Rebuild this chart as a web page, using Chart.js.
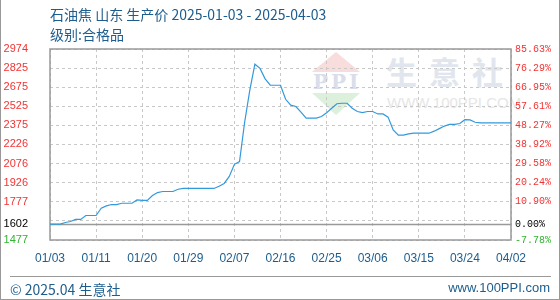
<!DOCTYPE html>
<html>
<head>
<meta charset="utf-8">
<script src="https://cdn.jsdelivr.net/npm/chart.js@4"></script>
<style>
  html, body { margin: 0; padding: 0; background: #fff; }
  #wrap { position: relative; width: 558px; height: 299px; border-left: 1px solid #999; border-right: 1px solid #999; border-bottom: 1px solid #999; overflow: hidden; font-family: "Noto Sans CJK SC", "Noto Sans", sans-serif; }
  #chart { position: absolute; left: -1px; top: 0; z-index: 2; }
  .txt { position: absolute; color: #1c5d8e; white-space: nowrap; z-index: 3; }
  .wm { position: absolute; z-index: 1; white-space: nowrap; }
  .tri-up { width: 0; height: 0; border-left: 24px solid transparent; border-right: 24px solid transparent; border-bottom: 20px solid #f9dcdc; }
  .tri-down { width: 0; height: 0; border-left: 24px solid transparent; border-right: 24px solid transparent; border-top: 22px solid #dcf0dc; }
</style>
</head>
<body>
<div id="wrap">
  <div class="txt" style="left:49px; top:4px; font-size:14px;">石油焦 山东 生产价 2025-01-03 - 2025-04-03</div>
  <div class="txt" style="left:49px; top:24px; font-size:14px;">级别:合格品</div>

  <!-- watermark -->
  <div class="wm tri-up" style="left:311px; top:52px;"></div>
  <div class="wm" style="left:312px; top:70px; font: bold 20px 'DejaVu Serif', serif; color:#d9deea; letter-spacing:3px;">PPI</div>
  <div class="wm tri-down" style="left:311px; top:93px;"></div>
  <div class="wm" style="left:385px; top:48px; font: bold 31px 'Noto Sans CJK SC'; color:#e1e5ed; letter-spacing:12px;">生意社</div>
  <div class="wm" style="left:386px; top:94px; font: 15px 'Liberation Sans', sans-serif; color:#e6e6e6;">WWW.100PPI.COM</div>

  <canvas id="chart" width="560" height="300"></canvas>

  <div style="position:absolute; left:9px; top:276px; width:541px; border-top:1px solid #999;"></div>
  <div class="txt" style="left:9px; top:279px; font-size:14px;">© 2025.04 生意社</div>
  <div class="txt" style="right:9px; top:280px; font-size:13px; font-family:'Liberation Sans', sans-serif;">www.100PPI.com</div>
</div>

<script>
// x axis tick labels, one every 9 points
const xTicks = ['01/03', '01/11', '01/20', '01/29', '02/07', '02/16', '02/25', '03/06', '03/15', '03/24', '04/02'];

// price series (yuan/ton)
const prices = [
  1602, 1602, 1602, 1614, 1622, 1638, 1638, 1669, 1669, 1669,
  1726, 1744, 1755, 1755, 1765, 1765, 1765, 1791, 1788, 1788,
  1825, 1849, 1857, 1857, 1857, 1875, 1881, 1881, 1881, 1881,
  1881, 1881, 1881, 1898, 1920, 1975, 2070, 2092, 2400, 2650,
  2855, 2822, 2740, 2690, 2690, 2690, 2580, 2534, 2523, 2480,
  2432, 2432, 2432, 2445, 2475, 2510, 2545, 2549, 2549, 2510,
  2484, 2476, 2484, 2484, 2465, 2465, 2440, 2340, 2299, 2299,
  2309, 2314, 2314, 2314, 2314, 2330, 2350, 2370, 2384, 2384,
  2390, 2420, 2418, 2400, 2395, 2395, 2395, 2395, 2395, 2395,
  2395
];

const basePrice = 1602;
const yMin = 1477;
const yMax = 2974;

// y ticks (ascending), left price labels and right percent labels
const yTicks = [1477, 1602, 1627, 1777, 1926, 2076, 2226, 2375, 2525, 2675, 2825, 2974];
const leftLabels = ['1477', '1602', '', '1777', '1926', '2076', '2226', '2375', '2525', '2675', '2825', '2974'];
const rightLabels = ['-7.78%', '0.00%', '', '10.90%', '20.24%', '29.58%', '38.92%', '48.27%', '57.61%', '66.95%', '76.29%', '85.63%'];

const labels = prices.map((p, i) => i % 9 === 0 ? xTicks[i / 9] : '');

function tickColor(ctx) {
  const v = yTicks[ctx.index];
  if (v < basePrice) return '#33b233';
  if (v === basePrice) return '#000';
  return '#f23333';
}

// frame around the plot and solid base line at 1602
const framePlugin = {
  id: 'frame',
  beforeDatasetsDraw(chart) {
    const { ctx, chartArea: a, scales } = chart;
    ctx.save();
    ctx.strokeStyle = '#999';
    ctx.lineWidth = 1.5;
    const yb = Math.round(scales.y.getPixelForValue(basePrice)) + 0.5;
    ctx.beginPath();
    ctx.moveTo(a.left, yb);
    ctx.lineTo(a.right, yb);
    ctx.stroke();
    ctx.strokeRect(a.left, a.top, a.right - a.left, a.bottom - a.top);
    ctx.restore();
  }
};

new Chart(document.getElementById('chart'), {
  type: 'line',
  data: {
    labels: labels,
    datasets: [{
      data: prices,
      borderColor: '#3399dd',
      borderWidth: 1.2,
      pointRadius: 0,
      tension: 0,
      fill: false
    }]
  },
  options: {
    responsive: false,
    animation: false,
    layout: { padding: { top: 49, bottom: 30, left: 0, right: 0 } },
    plugins: { legend: { display: false }, tooltip: { enabled: false } },
    scales: {
      x: {
        afterBuildTicks: s => { s.ticks = s.ticks.filter(t => t.value % 9 === 0); },
        afterFit: s => { s.height = 30; },
        ticks: {
          autoSkip: false,
          maxRotation: 0,
          callback: v => labels[v],
          color: '#1c5d8e',
          font: { family: 'Liberation Sans', size: 12 },
          padding: 11
        },
        grid: { color: '#c8c8c8', drawTicks: false },
        border: { display: false, dash: [3, 3] }
      },
      y: {
        position: 'left',
        min: yMin,
        max: yMax,
        afterBuildTicks: s => { s.ticks = yTicks.map(v => ({ value: v })); },
        afterFit: s => { s.width = 50; },
        ticks: {
          callback: (v, i) => leftLabels[i],
          color: tickColor,
          font: { family: 'Liberation Sans', size: 11 },
          padding: 22
        },
        grid: { color: '#c8c8c8', drawTicks: false },
        border: { display: false, dash: [3, 3] }
      },
      y2: {
        position: 'right',
        min: yMin,
        max: yMax,
        afterBuildTicks: s => { s.ticks = yTicks.map(v => ({ value: v })); },
        afterFit: s => { s.width = 49; },
        ticks: {
          callback: (v, i) => rightLabels[i],
          color: tickColor,
          font: { family: 'Liberation Mono', size: 10 },
          padding: 4
        },
        grid: { drawOnChartArea: false, drawTicks: false },
        border: { display: false }
      }
    }
  },
  plugins: [framePlugin]
});
</script>
</body>
</html>
